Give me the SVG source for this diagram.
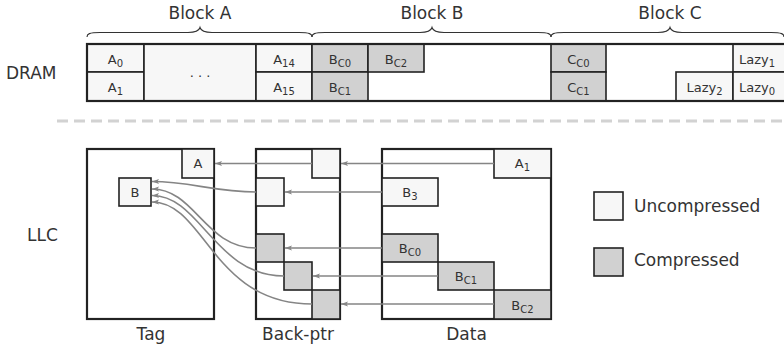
<svg xmlns="http://www.w3.org/2000/svg" width="784" height="347" viewBox="0 0 784 347">
<defs>
<style>
text{font-family:"DejaVu Sans","Liberation Sans",sans-serif;fill:#333}
.big{font-size:17px}
.cell{font-size:13px;text-anchor:middle}
.sub{font-size:10px}
.lab{font-size:17px;text-anchor:middle}
.u{fill:#f7f7f7;stroke:#222;stroke-width:1.6}
.c{fill:#d1d1d1;stroke:#222;stroke-width:1.6}
.w{fill:#fff;stroke:#222;stroke-width:1.6}
.frame{fill:none;stroke:#222;stroke-width:2.2}
.brace{fill:none;stroke:#333;stroke-width:1.1}
.conn{fill:none;stroke:#858585;stroke-width:1.6;marker-end:url(#ah)}
</style>
<marker id="ah" markerUnits="userSpaceOnUse" markerWidth="8" markerHeight="6" refX="7" refY="3" orient="auto">
<path d="M0,0.5 L7,3 L0,5.5 L1.5,3 z" fill="#858585"/>
</marker>
</defs>

<!-- DRAM -->
<g id="dram">
<text class="big" x="6" y="79.3">DRAM</text>
<path class="brace" d="M87,37 C87,34 89,32.5 100,32.5 L188,32.5 C196,32.5 199,31 200,27.5 C201,31 204,32.5 212,32.5 L299,32.5 C310,32.5 312,34 312,37"/>
<path class="brace" d="M312,37 C312,34 314,32.5 325,32.5 L420,32.5 C428,32.5 431,31 432,27.5 C433,31 436,32.5 444,32.5 L538,32.5 C549,32.5 551,34 551,37"/>
<path class="brace" d="M551,37 C551,34 553,32.5 564,32.5 L658,32.5 C666,32.5 669,31 670,27.5 C671,31 674,32.5 682,32.5 L771,32.5 C782,32.5 784,34 784,37"/>
<text class="lab" x="200" y="19">Block A</text>
<text class="lab" x="432" y="19">Block B</text>
<text class="lab" x="670" y="19">Block C</text>
<rect class="w" x="87" y="44" width="700" height="57"/>
<rect class="u" x="87" y="44" width="57" height="28"/>
<rect class="u" x="87" y="72" width="57" height="29"/>
<rect class="u" x="144" y="44" width="112" height="57"/>
<rect class="u" x="256" y="44" width="56" height="28"/>
<rect class="u" x="256" y="72" width="56" height="29"/>
<rect class="c" x="312" y="44" width="56" height="28"/>
<rect class="c" x="312" y="72" width="56" height="29"/>
<rect class="c" x="368" y="44" width="56" height="28"/>
<rect class="c" x="551" y="44" width="55" height="28"/>
<rect class="c" x="551" y="72" width="55" height="29"/>
<rect class="u" x="676" y="72" width="57" height="29"/>
<rect class="u" x="733" y="44" width="55" height="28"/>
<rect class="u" x="733" y="72" width="55" height="29"/>
<rect class="frame" x="87" y="44" width="700" height="57"/>
<text class="cell" x="115.5" y="63.5">A<tspan class="sub" dy="3">0</tspan></text>
<text class="cell" x="115.5" y="92">A<tspan class="sub" dy="3">1</tspan></text>
<text class="cell" x="200" y="76.5">. . .</text>
<text class="cell" x="284" y="63.5">A<tspan class="sub" dy="3">14</tspan></text>
<text class="cell" x="284" y="92">A<tspan class="sub" dy="3">15</tspan></text>
<text class="cell" x="340" y="63.5">B<tspan class="sub" dy="3">C0</tspan></text>
<text class="cell" x="340" y="92">B<tspan class="sub" dy="3">C1</tspan></text>
<text class="cell" x="396" y="63.5">B<tspan class="sub" dy="3">C2</tspan></text>
<text class="cell" x="578.5" y="63.5">C<tspan class="sub" dy="3">C0</tspan></text>
<text class="cell" x="578.5" y="92">C<tspan class="sub" dy="3">C1</tspan></text>
<text class="cell" x="704.5" y="92">Lazy<tspan class="sub" dy="3">2</tspan></text>
<text class="cell" x="757" y="63.5">Lazy<tspan class="sub" dy="3">1</tspan></text>
<text class="cell" x="757" y="92">Lazy<tspan class="sub" dy="3">0</tspan></text>
</g>

<line id="divider" x1="57" y1="121" x2="784" y2="121" stroke="#d2d2d2" stroke-width="3" stroke-dasharray="11,6"/>

<text class="big" x="27" y="241">LLC</text>

<!-- Tag -->
<g id="tag">
<rect class="w" x="87" y="149" width="127" height="170" style="stroke-width:2.2"/>
<rect class="u" x="182" y="149" width="32" height="29"/>
<rect class="u" x="119" y="178" width="32" height="28"/>
<text class="cell" x="198" y="168">A</text>
<text class="cell" x="135" y="197">B</text>
<text class="lab" x="151" y="340">Tag</text>
</g>

<!-- Back-ptr -->
<g id="backptr">
<rect class="w" x="256" y="149" width="84" height="170" style="stroke-width:2.2"/>
<rect class="u" x="312" y="149" width="28" height="29"/>
<rect class="u" x="256" y="178" width="28" height="28"/>
<rect class="c" x="256" y="234" width="28" height="28"/>
<rect class="c" x="284" y="262" width="28" height="28"/>
<rect class="c" x="312" y="290" width="28" height="29"/>
<text class="lab" x="298" y="340">Back-ptr</text>
</g>

<!-- Data -->
<g id="data">
<rect class="w" x="382" y="149" width="169" height="170" style="stroke-width:2.2"/>
<rect class="u" x="494" y="149" width="57" height="29"/>
<rect class="u" x="382" y="178" width="56" height="28"/>
<rect class="c" x="382" y="234" width="56" height="28"/>
<rect class="c" x="438" y="262" width="56" height="28"/>
<rect class="c" x="494" y="290" width="57" height="29"/>
<text class="cell" x="522.5" y="168">A<tspan class="sub" dy="3">1</tspan></text>
<text class="cell" x="410" y="197">B<tspan class="sub" dy="3">3</tspan></text>
<text class="cell" x="410" y="253">B<tspan class="sub" dy="3">C0</tspan></text>
<text class="cell" x="466" y="281">B<tspan class="sub" dy="3">C1</tspan></text>
<text class="cell" x="522.5" y="309.5">B<tspan class="sub" dy="3">C2</tspan></text>
<text class="lab" x="466.5" y="340">Data</text>
</g>

<!-- Legend -->
<g id="legend">
<rect class="u" x="594" y="192" width="29" height="28"/>
<rect class="c" x="594" y="248" width="29" height="28"/>
<text class="big" x="634" y="211.5">Uncompressed</text>
<text class="big" x="634" y="266">Compressed</text>
</g>

<!-- Connectors -->
<g id="connectors">
<path class="conn" d="M494,163.5 L341,163.5"/>
<path class="conn" d="M312,163.5 L215,163.5"/>
<path class="conn" d="M382,192 L285,192"/>
<path class="conn" d="M382,248 L285,248"/>
<path class="conn" d="M438,276 L313,276"/>
<path class="conn" d="M494,304 L341,304"/>
<path class="conn" d="M256,192 C215,192 190,181.5 152,181.5"/>
<path class="conn" d="M256,248 C205,248 195,189 152,189"/>
<path class="conn" d="M284,276 C215,276 200,195 152,195.5"/>
<path class="conn" d="M312,304 C212,304 205,202 152,202"/>
</g>
</svg>
